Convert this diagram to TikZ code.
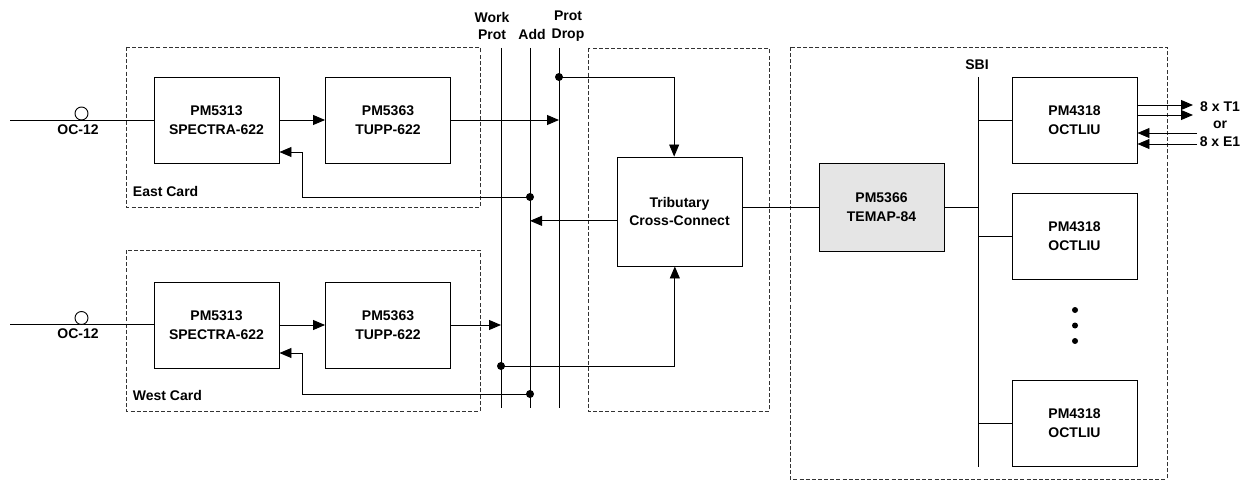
\documentclass[tikz,border=0pt]{standalone}
\usepackage{fontspec}
\setmainfont{Liberation Sans}
\usetikzlibrary{arrows.meta,positioning}

\begin{document}
\begin{tikzpicture}[x=0.75pt,y=-0.75pt,line width=0.7pt,
  font={\fontsize{10.5}{14}\selectfont\bfseries},
  arr/.style={-{Triangle[length=9pt,width=7.5pt]}},
  card/.style={draw=black!80,dash pattern=on 3pt off 1.6pt,line width=0.6pt},
  dot/.style={circle,fill,inner sep=0pt,minimum size=6pt},
  lbl/.style={align=center,font={\fontsize{10.5}{13.2}\selectfont\bfseries}},
  ring/.style={circle,draw,fill=white,inner sep=0pt,minimum size=9.75pt}]
\useasboundingbox (0,0) rectangle (1251,481);
% cards and shelves
\draw[card] (126,47) rectangle (480,207); %%
\draw[card] (126,250) rectangle (480,411); %%
\draw[card] (588,48) rectangle (769,411); %%
\draw[card] (790,47) rectangle (1167,479); %%
\begin{scope}
\tikzstyle{every node}=[draw,rectangle,align=center,minimum width=93.75pt,minimum height=64.5pt] %%
\node (spE) at (216.5,120) {PM5313\\SPECTRA-622}; %%
\node (tuE) at (388,120) {PM5363\\TUPP-622}; %%
\node (spW) at (216.5,325) {PM5313\\SPECTRA-622}; %%
\node (tuW) at (388,325) {PM5363\\TUPP-622}; %%
\node[minimum height=81.75pt] (tcc) at (679.5,211.5) {Tributary\\Cross-Connect}; %%
\node[fill=black!10,minimum height=66pt] (temap) at (881.5,207) {PM5366\\TEMAP-84}; %%
\node (oct1) at (1074.5,120.5) {PM4318\\OCTLIU}; %%
\node (oct2) at (1074.5,236) {PM4318\\OCTLIU}; %%
\node (oct3) at (1074.5,423.5) {PM4318\\OCTLIU}; %%
\end{scope}
% labels
\node[anchor=west] (eastL) at (128,191.5) {East Card}; %%
\node[anchor=west] (westL) at (128,395.5) {West Card}; %%
\node[lbl] (wpL) at (492,26) {Work\\Prot}; %%
\node[lbl] (adL) at (532,34) {Add}; %%
\node[lbl] (pdL) at (568,26) {Prot\\Drop}; %%
\node[lbl] (sbiL) at (977,65) {SBI}; %%
\node[lbl] (lineL) at (1220,124) {8 x T1\\or\\8 x E1}; %%
% buses
\coordinate (wpT) at (501,48); \coordinate (wpB) at (501,408); %%
\coordinate (adT) at (530,48); \coordinate (adB) at (530,408); %%
\coordinate (pdT) at (559,48); \coordinate (pdB) at (559,408); %%
\coordinate (sbiT) at (978,77); \coordinate (sbiB) at (978,467); %%
\draw (wpT) -- (wpB); \draw (adT) -- (adB); \draw (pdT) -- (pdB); %%
\draw (sbiT) -- (sbiB); %%
% east card
\coordinate (inE) at (10,120); %%
\draw (inE) -- (spE.west); %%
\node[ring] (ringE) at (81.5,113.5) {}; %%
\node (ocE) at (78,129.5) {OC-12}; %%
\draw[arr] (spE) -- (tuE); %%
\draw[arr] (tuE.east) -- (tuE.east -| pdT); %%
\node[dot] (d1) at (559,77) {}; %%
\draw[arr] (d1.center) -| ([xshift=-4pt]tcc.north); %%
\draw[arr] ([yshift=-7pt]tcc.west) -- ([yshift=-7pt]tcc.west -| adT); %%
\node[dot] (d2) at (530,197) {}; %%
\draw[arr] (d2.center) -- (302,197) |- ([yshift=-24pt]spE.east); %%
% west card
\coordinate (inW) at (10,324); %%
\draw (inW) -- (spW.west |- inW); %%
\node[ring] (ringW) at (81.5,318) {}; %%
\node (ocW) at (78,334) {OC-12}; %%
\draw[arr] (spW) -- (tuW); %%
\draw[arr] (tuW.east) -- (tuW.east -| wpT); %%
\node[dot] (d3) at (501,366) {}; %%
\draw[arr] (d3.center) -| ([xshift=-3.5pt]tcc.south); %%
\node[dot] (d4) at (530,394) {}; %%
\draw[arr] (d4.center) -- (302,394) |- ([yshift=-21pt]spW.east); %%
% mapper and line interfaces
\draw (temap.west -| tcc.east) -- (temap.west); %%
\draw (temap.east) -- (temap.east -| sbiT); %%
\draw (sbiT |- oct1.west) -- (oct1.west); %%
\draw (sbiT |- oct2.west) -- (oct2.west); %%
\draw (sbiT |- oct3.west) -- (oct3.west); %%
\foreach \y [count=\i] in {310,325.5,341} \node[dot,minimum size=4.5pt] (vd\i) at (1075,\y) {}; %%
\coordinate (tA) at (1193,105); \coordinate (tB) at (1193,115); %%
\coordinate (eA) at (1197,133); \coordinate (eB) at (1197,144); %%
\draw[arr] (oct1.east |- tA) -- (tA); %%
\draw[arr] (oct1.east |- tB) -- (tB); %%
\draw[arr] (eA) -- (oct1.east |- eA); %%
\draw[arr] (eB) -- (oct1.east |- eB); %%
\end{tikzpicture}
\end{document}
